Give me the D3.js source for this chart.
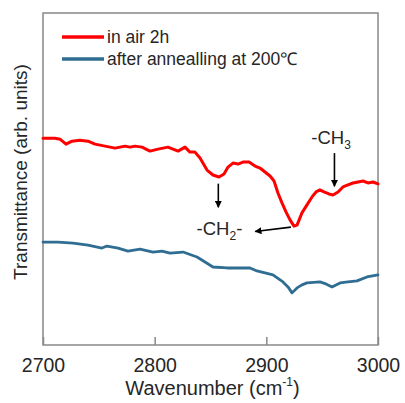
<!DOCTYPE html>
<html>
<head>
<meta charset="utf-8">
<script src="https://cdn.jsdelivr.net/npm/d3@7"></script>
<style>
  body { margin: 0; background: #fff; }
  svg text { font-family: "Liberation Sans", Arial, sans-serif; fill: #262626; }
</style>
</head>
<body>
<div id="chart"></div>
<script>
// wavenumber (cm-1) and transmittance (arb.)
const airWn = [2700, 2710.7, 2715.2, 2720.6, 2726, 2733, 2740.3, 2746.6, 2755.5, 2764.5, 2773.4, 2777.9, 2782.4, 2788.7, 2795.8, 2803, 2811.9, 2820.9, 2827.2, 2831.6, 2836.1, 2840.6, 2846.9, 2852.2, 2857.6, 2862.1, 2865.7, 2870.1, 2874.6, 2879.1, 2884.5, 2889.9, 2894.3, 2898.8, 2903.3, 2906.9, 2910.4, 2914, 2917.6, 2921.2, 2924.8, 2927.5, 2931.9, 2936.4, 2940.9, 2944.5, 2948, 2951.6, 2956.1, 2959.7, 2964.2, 2968.6, 2973.1, 2977.6, 2982.1, 2986.6, 2991, 2995.5, 3000];
const airT = [62.3, 62.3, 62.0, 60.5, 61.4, 61.7, 61.4, 60.5, 59.9, 59.3, 59.9, 59.6, 59.9, 59.6, 58.4, 59.0, 59.6, 58.4, 59.6, 58.1, 58.1, 56.3, 52.7, 51.2, 50.6, 51.5, 53.6, 54.8, 54.5, 55.1, 55.1, 53.9, 53.3, 52.1, 50.9, 49.4, 45.8, 42.8, 40.1, 37.7, 35.8, 36.1, 39.8, 42.2, 44.6, 46.1, 46.7, 46.1, 45.5, 45.2, 46.1, 47.6, 48.2, 48.8, 49.1, 49.4, 48.8, 49.1, 48.5];

const annWn = [2700, 2713.4, 2726.9, 2740.3, 2752.8, 2757.3, 2767.2, 2776.1, 2786.9, 2798.5, 2806.6, 2813.7, 2825.4, 2837.9, 2845.1, 2852.2, 2864.8, 2876.4, 2885.4, 2891.6, 2898.8, 2905.9, 2914.9, 2919.4, 2923, 2927.5, 2931.9, 2936.4, 2948, 2953.4, 2958.8, 2966, 2973.1, 2981.2, 2990.1, 3000];
const annT = [31.0, 31.0, 30.7, 30.1, 29.2, 29.8, 29.2, 28.3, 28.9, 28.0, 28.3, 27.7, 28.0, 26.5, 25.0, 23.5, 23.2, 23.2, 23.2, 22.3, 21.7, 21.1, 19.0, 17.5, 15.7, 17.2, 18.1, 18.7, 19.0, 18.4, 17.5, 18.7, 19.0, 19.3, 20.5, 21.1];

const xTicks = [2700, 2800, 2900, 3000];
const seriesNames = ["in air 2h", "after annealling at 200\u2103"];
const seriesColors = ["#ff0000", "#2f6e92"];

const w = 405, h = 403;
const margin = {top: 13, right: 27, bottom: 58, left: 43};

const svg = d3.select("#chart").append("svg")
    .attr("width", w)
    .attr("height", h);

const x = d3.scaleLinear()
    .domain([2700, 3000])
    .range([margin.left, w - margin.right]);
const y = d3.scaleLinear()
    .domain([0, 100])
    .range([h - margin.bottom, margin.top]);

// frame
svg.append("rect")
    .attr("x", margin.left)
    .attr("y", margin.top)
    .attr("width", x.range()[1] - x.range()[0])
    .attr("height", y.range()[0] - y.range()[1])
    .attr("fill", "none")
    .attr("stroke", "#888")
    .attr("stroke-width", 1.5);

const xAxis = d3.axisBottom(x)
    .tickValues(xTicks)
    .tickFormat(d3.format("d"))
    .tickSizeInner(-8)
    .tickSizeOuter(0)
    .tickPadding(13);

const gx = svg.append("g")
    .attr("transform", `translate(0, ${h - margin.bottom})`)
    .call(xAxis);
gx.select(".domain").remove();
gx.selectAll(".tick line").attr("stroke", "#888").attr("stroke-width", 1.5);
gx.selectAll(".tick text")
    .attr("font-size", 19.5)
    .attr("font-family", "Liberation Sans, Arial, sans-serif")
    .attr("fill", "#262626");

// axis titles
const xt = svg.append("text")
    .attr("x", (x.range()[0] + x.range()[1]) / 2 + 2)
    .attr("y", 395)
    .attr("text-anchor", "middle")
    .attr("font-size", 20);
xt.append("tspan").text("Wavenumber (cm");
xt.append("tspan").attr("font-size", 12).attr("dy", -9).text("-1");
xt.append("tspan").attr("dy", 9).text(")");

svg.append("text")
    .attr("transform", `translate(27, ${(y.range()[0] + y.range()[1]) / 2 - 7}) rotate(-90)`)
    .attr("text-anchor", "middle")
    .attr("font-size", 19)
    .text("Transmittance (arb. units)");

const line = d3.line()
    .x(d => x(d[0]))
    .y(d => y(d[1]));

const series = [d3.zip(airWn, airT), d3.zip(annWn, annT)];

svg.selectAll(".series")
    .data(series)
    .enter()
    .append("path")
    .attr("class", "series")
    .attr("d", line)
    .attr("fill", "none")
    .attr("stroke", (d, i) => seriesColors[i])
    .attr("stroke-width", (d, i) => i === 0 ? 3 : 2.8)
    .attr("stroke-linejoin", "round")
    .attr("stroke-linecap", "round");

// legend
const legend = svg.selectAll(".legend")
    .data(seriesNames)
    .enter()
    .append("g")
    .attr("class", "legend")
    .attr("transform", (d, i) => `translate(62, ${37 + i * 22})`);
legend.append("line")
    .attr("x1", 0).attr("x2", 42)
    .attr("stroke", (d, i) => seriesColors[i])
    .attr("stroke-width", 3.5);
legend.append("text")
    .attr("x", 45)
    .attr("y", 6)
    .attr("font-size", 17.5)
    .text(d => d);

// arrows and labels
svg.append("defs").append("marker")
    .attr("id", "arr")
    .attr("viewBox", "0 0 10 10")
    .attr("refX", 9).attr("refY", 5)
    .attr("markerWidth", 7).attr("markerHeight", 7)
    .attr("markerUnits", "userSpaceOnUse")
    .attr("orient", "auto")
    .append("path")
    .attr("d", "M0,0 L10,5 L0,10 z")
    .attr("fill", "#000");

const arrows = [
    [[2857, 50.6 - 2], [2857, 41.5]],
    [[2922, 35.5], [2890, 34.2]],
    [[2961, 57.8], [2961, 47.8]]
];
svg.selectAll(".arrow")
    .data(arrows)
    .enter()
    .append("line")
    .attr("class", "arrow")
    .attr("x1", d => x(d[0][0])).attr("y1", d => y(d[0][1]))
    .attr("x2", d => x(d[1][0])).attr("y2", d => y(d[1][1]))
    .attr("stroke", "#000")
    .attr("stroke-width", 1.6)
    .attr("marker-end", "url(#arr)");

const ch2 = svg.append("text")
    .attr("x", x(2858))
    .attr("y", y(33))
    .attr("text-anchor", "middle")
    .attr("font-size", 18.5);
ch2.append("tspan").text("-CH");
ch2.append("tspan").attr("font-size", 12).attr("dy", 5).text("2");
ch2.append("tspan").attr("dy", -5).text("-");

const ch3 = svg.append("text")
    .attr("x", x(2958))
    .attr("y", y(60.5))
    .attr("text-anchor", "middle")
    .attr("font-size", 18.5);
ch3.append("tspan").text("-CH");
ch3.append("tspan").attr("font-size", 12).attr("dy", 5).text("3");
</script>
</body>
</html>
